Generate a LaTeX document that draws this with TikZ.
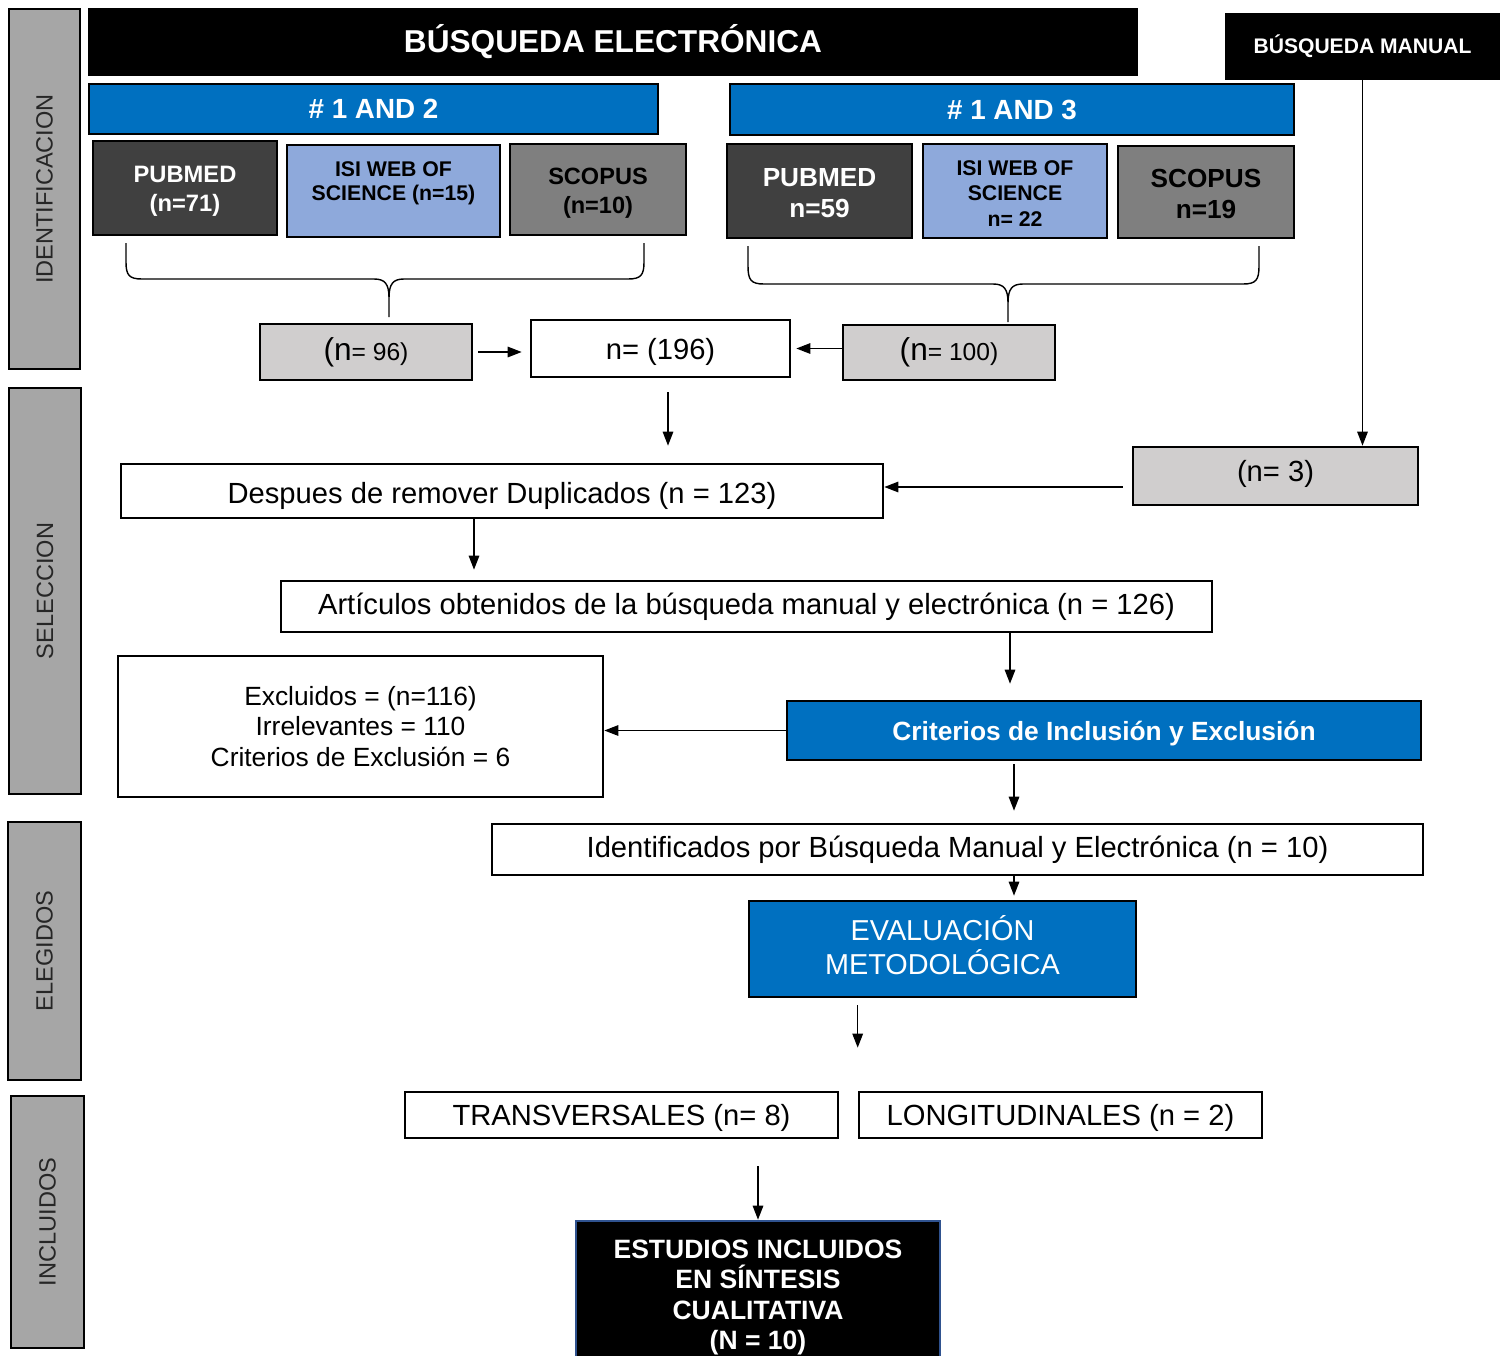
\documentclass[tikz,border=0pt]{standalone}
\usepackage{fontspec}
\setmainfont{Liberation Sans}
\usepackage{xcolor}
\usetikzlibrary{arrows.meta}

\definecolor{azul}{HTML}{0070C0}
\definecolor{dgray}{HTML}{404040}
\definecolor{mgray}{HTML}{7F7F7F}
\definecolor{lblue}{HTML}{8EA9DB}
\definecolor{lgray}{HTML}{D0CECE}
\definecolor{bandgray}{HTML}{A6A6A6}
\definecolor{navy}{HTML}{2F528F}
\newcommand{\fsz}[2]{\fontsize{#1}{#2}\selectfont}
% struts to nudge text inside a box
\newcommand{\hstrut}[1]{\rule{0pt}{#1}}
\newcommand{\dstrut}[1]{\rule[-#1]{0pt}{#1}}

\begin{document}
\begin{tikzpicture}[x=0.02cm, y=-0.02cm,
    sz/.style 2 args={minimum width=#1*0.02cm, minimum height=#2*0.02cm},
    box/.style={draw, line width=1.5pt, inner sep=0pt, align=center, font=\fsz{16.6}{20}},
    band/.style={box, fill=bandgray, rotate=90, font=\fsz{13.4}{16}, text=black!85},
    arr/.style={-{Triangle[length=8pt,width=6pt]}, line width=0.8pt},
    brace/.style={line width=0.8pt}]

    \useasboundingbox (0,0) rectangle (1507,1355);
    \clip (0,0) rectangle (1507,1355);

    % 1. Phase bands on the left
    \node[band, sz={360}{71}] (idb) at (44.5,189) {IDENTIFICACION};
    \node[band, sz={406}{72}] (selb) at (45,591) {SELECCION};
    \node[band, sz={258}{73}] (eleb) at (44.5,951) {ELEGIDOS};
    \node[band, sz={252}{73}] (incb) at (47.5,1222) {INCLUIDOS};

    % 2. Search headers
    \node[box, fill=black, text=white, font=\fsz{18}{22}\bfseries, sz={1048}{66}] (elec) at (613,42) {BÚSQUEDA ELECTRÓNICA};
    \node[box, fill=black, text=white, font=\fsz{12}{14}\bfseries, sz={273}{65}] (manual) at (1362.5,46.5) {BÚSQUEDA MANUAL};
    \node[box, fill=azul, text=white, font=\fsz{15.8}{19}\bfseries, sz={569}{50}] (and2) at (373.5,109) {\# 1 AND 2};
    \node[box, fill=azul, text=white, font=\fsz{15.8}{19}\bfseries, sz={564}{51}] (and3) at (1012,109.5) {\# 1 AND 3};

    % 3. Databases
    \node[box, fill=dgray, text=white, font=\fsz{13.5}{16.4}\bfseries, sz={184}{94}] (pub1) at (185,188) {\hstrut{1em}PUBMED\\(n=71)};
    \node[box, fill=lblue, font=\fsz{12.1}{13.6}\bfseries, sz={213}{92}] (isi1) at (393.5,191) {ISI WEB OF\\SCIENCE (n=15)\\[-2.3pt]\mbox{}};
    \node[box, fill=mgray, font=\fsz{13.4}{16.4}\bfseries, sz={176}{91}] (sco1) at (598,189.5) {\hstrut{1em}SCOPUS\\(n=10)};
    \node[box, fill=dgray, text=white, font=\fsz{14.9}{17.6}\bfseries, sz={185}{94}] (pub2) at (819.5,191) {\hstrut{0.88em}PUBMED\\n=59};
    \node[box, fill=lblue, font=\fsz{12.1}{14.5}\bfseries, sz={184}{94}] (isi2) at (1015,191) {\hstrut{0.92em}ISI WEB OF\\SCIENCE\\n= 22};
    \node[box, fill=mgray, font=\fsz{14.9}{17.6}\bfseries, sz={176}{92}] (sco2) at (1206,192) {\hstrut{0.88em}SCOPUS\\n=19};

    % 4. Braces under the databases
    \draw[brace] (126,243) -- (126,262) .. controls (126,275) and (129,279) .. (142,279) -- (374,279)
        .. controls (385,279) and (389,284) .. (389,298) -- (389,317)
        (389,298) .. controls (389,284) and (393,279) .. (404,279) -- (628,279)
        .. controls (641,279) and (644,275) .. (644,262) -- (644,243);
    \draw[brace] (748,246) -- (748,266) .. controls (748,280) and (751,284) .. (764,284) -- (993,284)
        .. controls (1004,284) and (1008,289) .. (1008,303) -- (1008,322)
        (1008,303) .. controls (1008,289) and (1012,284) .. (1023,284) -- (1243,284)
        .. controls (1256,284) and (1259,280) .. (1259,266) -- (1259,246);

    % 5. Counts
    \node[box, fill=lgray, font=\fsz{14}{17}, sz={212}{56}] (n96) at (366,352) {{\fsz{18}{20}(n}= 96)};
    \node[box, sz={259}{57}] (n196) at (660.5,348.5) {\hstrut{0.93em}n= (196)};
    \node[box, fill=lgray, font=\fsz{14}{17}, sz={212}{55}] (n100) at (949,352.5) {{\fsz{18}{20}(n}= 100)};
    \node[box, fill=lgray, sz={285}{58}] (n3) at (1275.5,476) {(n= 3)\dstrut{0.35em}};

    % 6. Selection
    \node[box, sz={762}{54}] (dup) at (502,491) {\hstrut{1.07em}Despues de remover Duplicados (n = 123)};
    \node[box, sz={931}{51}] (art) at (746.5,606.5) {Artículos obtenidos de la búsqueda manual y electrónica (n = 126)};
    \node[box, font=\fsz{15}{17.3}, sz={485}{141}] (excl) at (360.5,726.5) {Excluidos = (n=116)\\Irrelevantes = 110\\Criterios de Exclusión = 6};
    \node[box, fill=azul, text=white, font=\fsz{15}{18}\bfseries, sz={634}{59}] (crit) at (1104,730.5) {\hstrut{0.96em}Criterios de Inclusión y Exclusión};

    % 7. Eligible and included
    \node[box, sz={931}{51}] (ident) at (957.5,849.5) {Identificados por Búsqueda Manual y Electrónica (n = 10)};
    \node[box, fill=azul, text=white, font=\fsz{16.4}{19.3}, sz={387}{96}] (eval) at (942.5,949) {EVALUACIÓN\\METODOLÓGICA\dstrut{0.28em}};
    \node[box, sz={433}{46}] (trans) at (621.5,1115) {\hstrut{0.93em}TRANSVERSALES (n= 8)};
    \node[box, sz={403}{46}] (longi) at (1060.5,1115) {\hstrut{0.93em}LONGITUDINALES (n = 2)};
    \node[box, fill=black, draw=navy, text=white, font=\fsz{15.1}{17.4}\bfseries, sz={364}{146}] (est) at (758,1294) {\hstrut{0.95em}ESTUDIOS INCLUIDOS\\EN SÍNTESIS\\CUALITATIVA\\(N = 10)};

    % 8. Arrows
    \draw[arr, shorten <=0.1cm, shorten >=0.16cm] (n96.east) -- (n96.east -| n196.west);
    \draw[arr, shorten >=0.1cm] (n100.west |- n196.east) -- (n196.east);
    \draw[arr, shorten <=0.28cm, shorten >=0.34cm] (n196.south -| 668,0) -- (dup.north -| 668,0);
    \draw[arr] (manual.south) -- (manual.south |- n3.north);
    \draw[arr, shorten <=0.18cm] (n3.west |- 0,487) -- (dup.east |- 0,487);
    \draw[arr, shorten >=0.2cm] (dup.south -| 474,0) -- (art.north -| 474,0);
    \draw[arr, shorten >=0.32cm] (art.south -| 1010,0) -- (crit.north -| 1010,0);
    \draw[arr] (crit.west) -- (crit.west -| excl.east);
    \draw[arr, shorten <=0.06cm, shorten >=0.24cm] (crit.south -| 1014,0) -- (ident.north -| 1014,0);
    \draw[arr, shorten >=0.08cm] (ident.south -| 1014,0) -- (eval.north -| 1014,0);
    \draw[arr, shorten <=0.14cm, shorten >=0.86cm] (eval.south -| longi.west) -- (longi.north west);
    \draw[arr, shorten <=0.54cm] (est.north |- trans.south) -- (est.north);

\end{tikzpicture}
\end{document}
